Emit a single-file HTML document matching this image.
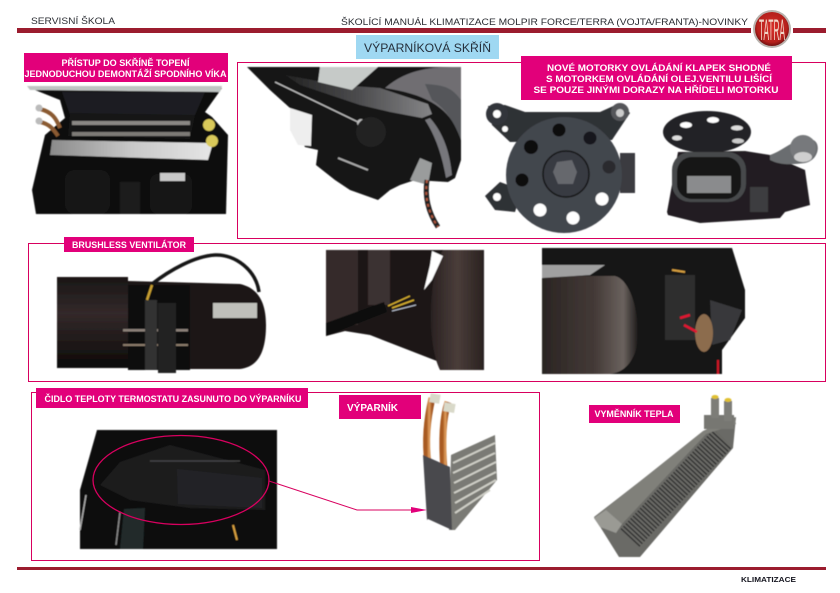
<!DOCTYPE html>
<html><head><meta charset="utf-8"><style>
html,body{margin:0;padding:0;background:#fff;width:840px;height:593px;overflow:hidden}
svg{display:block;font-family:"Liberation Sans",sans-serif}
.w{fill:#fff;font-weight:bold;font-size:9px;text-anchor:middle}
.g{fill:#2b2d33;font-size:9px}
</style></head><body>
<svg width="840" height="593" viewBox="0 0 840 593" xmlns="http://www.w3.org/2000/svg">
<defs>
<linearGradient id="cyl" x1="0" y1="0" x2="0" y2="1"><stop offset="0" stop-color="#1a1716"/><stop offset=".4" stop-color="#33292a"/><stop offset=".8" stop-color="#1a1514"/><stop offset="1" stop-color="#0a0808"/></linearGradient>
<linearGradient id="cyl2" x1="0" y1="0" x2="1" y2="0"><stop offset="0" stop-color="#2a2222"/><stop offset=".5" stop-color="#4a3d3a"/><stop offset="1" stop-color="#2a2220"/></linearGradient>
<linearGradient id="cyl3" x1="0" y1="0" x2="1" y2="0"><stop offset="0" stop-color="#2a2523"/><stop offset=".55" stop-color="#443a37"/><stop offset=".85" stop-color="#6a625e"/><stop offset="1" stop-color="#1f1c1b"/></linearGradient>
<radialGradient id="logo" cx=".5" cy=".45" r=".55"><stop offset="0" stop-color="#d8302a"/><stop offset=".8" stop-color="#b5201c"/><stop offset="1" stop-color="#701010"/></radialGradient>
<linearGradient id="alu" x1="0" y1="0" x2="1" y2="0"><stop offset="0" stop-color="#8a8a8a"/><stop offset=".5" stop-color="#c8c8c8"/><stop offset="1" stop-color="#e6e6e6"/></linearGradient>
<linearGradient id="arm" x1="0" y1="0" x2="1" y2="0"><stop offset="0" stop-color="#222"/><stop offset=".5" stop-color="#4c4c4e"/><stop offset="1" stop-color="#858587"/></linearGradient>
<linearGradient id="cu" x1="0" y1="0" x2="1" y2="0"><stop offset="0" stop-color="#a85a20"/><stop offset=".5" stop-color="#e2a060"/><stop offset="1" stop-color="#a05520"/></linearGradient>
<filter id="b" x="-5%" y="-5%" width="110%" height="110%"><feGaussianBlur stdDeviation=".5"/></filter>
</defs>

<!-- header -->
<rect x="17" y="28" width="734" height="5" fill="#9b1c2e"/>
<rect x="793" y="28" width="33" height="5" fill="#9b1c2e"/>
<text x="31" y="24" class="g" textLength="84" lengthAdjust="spacingAndGlyphs">SERVISNÍ ŠKOLA</text>
<text x="341" y="25" class="g" textLength="407" lengthAdjust="spacingAndGlyphs">ŠKOLÍCÍ MANUÁL  KLIMATIZACE MOLPIR FORCE/TERRA (VOJTA/FRANTA)-NOVINKY</text>
<circle cx="772" cy="29" r="19" fill="#b9b2ad"/>
<circle cx="772" cy="29" r="17" fill="url(#logo)"/>
<text x="772" y="40" font-size="30" fill="#f1d6c8" text-anchor="middle" textLength="26" lengthAdjust="spacingAndGlyphs">TATRA</text>

<rect x="356" y="35" width="143" height="24" fill="#9fd8f2"/>
<text x="364" y="52" font-size="12" fill="#26303c" textLength="127" lengthAdjust="spacingAndGlyphs">VÝPARNÍKOVÁ SKŘÍŇ</text>

<!-- frames -->
<rect x="237.500" y="62.500" width="588" height="176" fill="none" stroke="#d8005f" stroke-width="1"/>
<rect x="28.500" y="243.500" width="797" height="138" fill="none" stroke="#d8005f" stroke-width="1"/>
<rect x="31.500" y="392.500" width="508" height="168" fill="none" stroke="#d8005f" stroke-width="1"/>

<g filter="url(#b)">
<!-- photo A -->
<polygon points="32,190 45,135 65,118 60,100 30,88 222,88 205,112 212,117 228,135 226,214 36,214" fill="#0c0c0c"/>
<polygon points="27,86 222,86 220,92 30,90" fill="#bfc4c2"/>
<polygon points="62,92 205,92 195,115 70,115" fill="#1c1e22"/>
<polygon points="70,113 195,115 190,139 68,136" fill="#151515"/>
<rect x="72" y="121" width="118" height="4" fill="#8a8784"/>
<rect x="72" y="132" width="118" height="4" fill="#7d7a76"/>
<path d="M40,109C52,112 56,118 60,128M40,122C50,124 54,130 58,136" stroke="#8a5a30" stroke-width="4" fill="none"/>
<circle cx="39" cy="108" r="3.500" fill="#bbb"/><circle cx="39" cy="121" r="3.500" fill="#bbb"/>
<polygon points="52,140 213,143 208,160 50,155" fill="url(#alu)"/>
<circle cx="209" cy="125" r="6" fill="#d9c95a"/><circle cx="212" cy="141" r="6" fill="#d9c95a"/>
<rect x="65" y="170" width="45" height="44" rx="10" fill="#181818"/>
<rect x="150" y="174" width="42" height="40" rx="8" fill="#161616"/>
<polygon points="160,173 185,173 185,181 160,181" fill="#c8c8c8"/>
<rect x="120" y="182" width="20" height="32" fill="#1f1f1f"/>

<!-- photo B -->
<polygon points="247,67 461,67 461,160 455,178 448,182 415,180 400,185 390,190 378,200 350,190 335,180 316,165 318,150 305,147 295,130 290,108 270,90" fill="#131313"/>
<path d="M385,88C410,66 440,67 461,67V140C452,110 430,95 385,88Z" fill="#6f6e72"/>
<path d="M432,100C448,110 455,125 461,140V100C452,88 445,85 425,84Z" fill="#55565a"/>
<polygon points="285,75 340,85 380,88 428,104 432,114 422,118 390,112 360,105 300,85" fill="url(#arm)"/>
<polygon points="320,67 378,67 352,90 318,82" fill="#c6cac8"/>
<path d="M430,118C445,135 450,155 452,175L446,178C442,155 435,135 425,120Z" fill="#77777b"/>
<polygon points="290,108 312,115 311,146 298,145 290,130" fill="#eeeeee"/>
<line x1="275" y1="82" x2="358" y2="122" stroke="#bbb" stroke-width="1.500"/>
<circle cx="361" cy="123" r="4" fill="#bbb"/>
<circle cx="371" cy="132" r="15" fill="#222224"/>
<line x1="338" y1="158" x2="368" y2="170" stroke="#aaa" stroke-width="2"/>
<polygon points="420,158 432,163 428,185 410,180" fill="#9a9c9c"/>
<path d="M427,180C424,200 430,215 438,227" stroke="#222" stroke-width="5" fill="none"/>
<path d="M427,180C424,200 430,215 438,227" stroke="#b0563c" stroke-width="2" stroke-dasharray="3 3" fill="none"/>

<!-- motor left -->
<polygon points="488,106 505,105 525,112 600,112 620,103 630,113 612,140 510,142 492,125" fill="#2f3034"/>
<polygon points="485,196 500,182 522,190 515,212 495,210" fill="#2f3034"/>
<circle cx="497" cy="114" r="11" fill="#33343a"/><circle cx="497" cy="114" r="4" fill="#fff"/>
<circle cx="620" cy="112" r="9" fill="#55565a"/><circle cx="620" cy="113" r="4" fill="#ccc"/>
<circle cx="497" cy="197" r="4" fill="#fff"/><circle cx="505" cy="129" r="3" fill="#fff"/>
<rect x="620" y="153" width="15" height="40" fill="#3a3b40"/>
<circle cx="564" cy="175" r="58" fill="#43464d"/>
<circle cx="559" cy="130" r="6.500" fill="#0e0e10"/><circle cx="590" cy="138" r="6.500" fill="#17171a"/>
<circle cx="531" cy="147" r="7" fill="#0e0e10"/><circle cx="609" cy="167" r="6.500" fill="#2b2b2f"/>
<circle cx="522" cy="180" r="6.500" fill="#0e0e10"/>
<circle cx="602" cy="199" r="6.500" fill="#fff"/><circle cx="573" cy="218" r="6.500" fill="#fff"/><circle cx="540" cy="210" r="6.500" fill="#fff"/>
<circle cx="566" cy="174" r="23" fill="#393b42" stroke="#141416" stroke-width="1.500"/>
<polygon points="557,162 572,160 577,172 573,184 558,184 553,172" fill="#66686d"/>

<!-- motor right -->
<ellipse cx="707" cy="132" rx="44" ry="21" fill="#232326"/>
<ellipse cx="686" cy="125" rx="6" ry="3" fill="#fff"/><ellipse cx="713" cy="120" rx="6" ry="3" fill="#fff"/><ellipse cx="737" cy="128" rx="6" ry="2.500" fill="#ddd"/><ellipse cx="677" cy="138" rx="5" ry="2.500" fill="#ddd"/><ellipse cx="738" cy="141" rx="6" ry="2.500" fill="#ccc"/>
<polygon points="667,212 678,152 745,151 770,155 805,170 810,205 785,212 780,218 700,223 668,215" fill="#211f21"/>
<path d="M770,155C785,150 790,140 810,139C822,140 820,160 805,163C790,165 780,165 770,160Z" fill="#6b6d70"/>
<ellipse cx="803" cy="148" rx="13" ry="13" fill="#77797b"/>
<ellipse cx="803" cy="157" rx="9" ry="5" fill="#cfcfcf"/>
<rect x="672" y="152" width="74" height="50" rx="18" fill="#46484b"/>
<rect x="677" y="157" width="64" height="42" rx="15" fill="#151516"/>
<rect x="687" y="176" width="44" height="17" fill="#8a8b8d"/>
<rect x="750" y="187" width="18" height="25" fill="#3e3e40"/>

<!-- fan 1 -->
<polygon points="57,277 128,277 128,368 57,368" fill="url(#cyl)"/>
<path d="M128,281L240,284C258,288 266,302 266,325C266,352 258,367 240,369H190V368H128Z" fill="#1e1817"/>
<rect x="128" y="285" width="62" height="85" fill="#101010"/>
<rect x="123" y="329" width="65" height="2.500" fill="#8a8078"/>
<rect x="123" y="344" width="65" height="2" fill="#8a7a6a"/>
<rect x="158" y="303" width="18" height="70" fill="#242424"/>
<rect x="145" y="300" width="12" height="70" fill="#333"/>
<path d="M152,284C170,270 195,256 215,255C235,254 256,270 259,292" stroke="#151515" stroke-width="3.500" fill="none"/>
<path d="M152,285L147,300" stroke="#c9a030" stroke-width="2.500"/>
<polygon points="213,303 257,303 257,318 213,318" fill="#bfbfba"/>

<!-- fan 2 -->
<polygon points="326,250 484,250 484,370 460,370 370,335 345,331 326,336" fill="#1a1716"/>
<path d="M443,250H484V370H440C425,340 430,270 443,250Z" fill="url(#cyl2)"/>
<rect x="326" y="250" width="32" height="75" fill="#352c2a"/>
<rect x="368" y="250" width="22" height="55" fill="#3a3030"/>
<polygon points="432,251 443,256 432,280 424,290 430,265" fill="#fff"/>
<polygon points="326,323 384,302 387,312 326,336" fill="#0f0f0f"/>
<path d="M388,306L410,296M392,308L414,300" stroke="#d8b030" stroke-width="1.500"/>
<path d="M392,311L416,305" stroke="#c0c8d8" stroke-width="1"/>

<!-- fan 3 -->
<polygon points="542,248 732,248 745,290 745,318 722,350 722,374 542,374" fill="#141414"/>
<path d="M542,276H615C632,280 642,320 636,350C632,362 625,372 610,374H542Z" fill="url(#cyl3)"/>
<polygon points="542,265 605,265 590,275 542,278" fill="#a0a0a0"/>
<polygon points="665,275 695,275 695,340 665,340" fill="#2d2d2f"/>
<polygon points="710,300 742,310 730,340 712,345" fill="#38383a"/>
<ellipse cx="704" cy="333" rx="9" ry="19" fill="#8c6c4e"/>
<path d="M680,318L690,315M684,325L697,332" stroke="#e01830" stroke-width="2.500"/>
<path d="M718,360V374" stroke="#d01525" stroke-width="2"/>
<path d="M672,270L685,272" stroke="#d8a040" stroke-width="2"/>

<!-- evaporator photo -->
<polygon points="97,430 277,430 277,549 80,549 80,490" fill="#0b0b0b"/>
<polygon points="120,462 170,445 265,470 265,510 190,508 130,500 100,485" fill="#1b1b1d"/>
<polygon points="177,469 262,478 262,508 178,504" fill="#232427"/>
<polygon points="124,509 145,508 143,549 120,549" fill="#22292a"/>
<line x1="86" y1="495" x2="80" y2="530" stroke="#aaa" stroke-width="1.500"/>
<line x1="120" y1="512" x2="116" y2="545" stroke="#888" stroke-width="1.500"/>
<line x1="150" y1="461" x2="240" y2="461" stroke="#444" stroke-width="1.500"/>
<path d="M233,525L237,540" stroke="#d8a040" stroke-width="2"/>

<!-- evaporator -->
<path d="M432,398C427,420 425,440 428,465" stroke="url(#cu)" stroke-width="7" fill="none"/>
<path d="M448,402C442,420 442,445 444,470" stroke="url(#cu)" stroke-width="7" fill="none"/>
<rect x="430" y="394" width="10" height="9" fill="#d9d9c9" transform="rotate(10 435 398)"/>
<rect x="444" y="403" width="11" height="9" fill="#d9d9c9" transform="rotate(10 449 407)"/>
<polygon points="451,455 495,435 497,480 455,530 449,530" fill="#7a7a74"/>
<path d="M453,463L495,443M453,473L495,453M454,483L496,462M454,493L496,472M455,503L496,480M455,513L490,490" stroke="#cfcfc7" stroke-width="2"/>
<polygon points="423,455 450,467 452,530 428,519 427,520" fill="#48484e"/>

<!-- heat exchanger -->
<polygon points="594,517 705,431 736,417 733,448 640,557 619,557" fill="#6b6b66"/>
<line x1="630" y1="538" x2="723" y2="438" stroke="#333" stroke-width="26" stroke-dasharray="1.500 2"/>
<polygon points="594,518 703,431 734,416 736,424 706,434 622,524 616,532 600,526" fill="#80807a"/>
<polygon points="594,518 606,510 622,524 616,533 600,527" fill="#9a9a94"/>
<rect x="704" y="415" width="30" height="14" fill="#777772"/>
<rect x="711" y="398" width="8" height="20" fill="#7d7d78"/>
<rect x="724" y="401" width="8" height="20" fill="#7d7d78"/>
<ellipse cx="715" cy="397" rx="3.500" ry="2" fill="#e0c030"/>
<ellipse cx="728" cy="400" rx="3.500" ry="2" fill="#e0c030"/>
</g>

<ellipse cx="181" cy="480" rx="88" ry="44.500" fill="none" stroke="#d8005f" stroke-width="1.300"/>
<polyline points="269,481 357,510 412,510" fill="none" stroke="#d8005f" stroke-width="1"/>
<polygon points="411,507 427,510 411,513" fill="#e2007a"/>

<!-- pink labels -->
<rect x="24" y="53" width="204" height="29" fill="#e2007a"/>
<text x="125.500" y="66" class="w" textLength="128" lengthAdjust="spacingAndGlyphs">PŘÍSTUP DO SKŘÍNĚ TOPENÍ</text>
<text x="125.500" y="77" class="w" textLength="202" lengthAdjust="spacingAndGlyphs">JEDNODUCHOU DEMONTÁŽÍ SPODNÍHO VÍKA</text>
<rect x="521" y="56" width="271" height="44" fill="#e2007a"/>
<text x="659" y="71" class="w" textLength="224" lengthAdjust="spacingAndGlyphs">NOVÉ MOTORKY OVLÁDÁNÍ KLAPEK SHODNÉ</text>
<text x="659" y="82" class="w" textLength="226" lengthAdjust="spacingAndGlyphs">S MOTORKEM OVLÁDÁNÍ OLEJ.VENTILU LIŠÍCÍ</text>
<text x="656" y="93" class="w" textLength="245" lengthAdjust="spacingAndGlyphs">SE POUZE JINÝMI DORAZY NA HŘÍDELI MOTORKU</text>
<rect x="64" y="237" width="130" height="15" fill="#e2007a"/>
<text x="129" y="248" class="w" textLength="114" lengthAdjust="spacingAndGlyphs">BRUSHLESS VENTILÁTOR</text>
<rect x="36" y="388" width="272" height="20" fill="#e2007a"/>
<text x="173" y="402" class="w" textLength="257" lengthAdjust="spacingAndGlyphs">ČIDLO TEPLOTY TERMOSTATU ZASUNUTO DO VÝPARNÍKU</text>
<rect x="339" y="395" width="82" height="24" fill="#e2007a"/>
<text x="372.500" y="411" class="w" style="font-size:10px" textLength="51" lengthAdjust="spacingAndGlyphs">VÝPARNÍK</text>
<rect x="589" y="405" width="91" height="18" fill="#e2007a"/>
<text x="634" y="417" class="w" textLength="79" lengthAdjust="spacingAndGlyphs">VYMĚNNÍK TEPLA</text>

<!-- footer -->
<rect x="17" y="567" width="809" height="3" fill="#9b1c2e"/>
<text x="741" y="582" font-size="7.500" font-weight="bold" fill="#15151f" textLength="55" lengthAdjust="spacingAndGlyphs">KLIMATIZACE</text>
</svg>
</body></html>
